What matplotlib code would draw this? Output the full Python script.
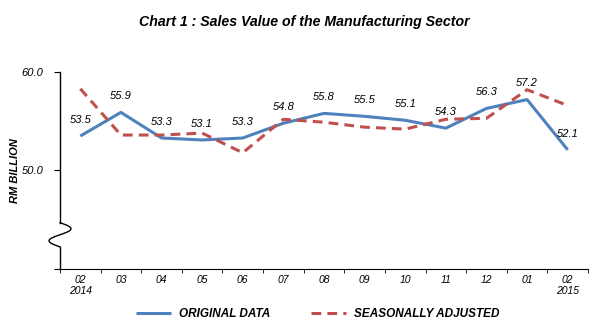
import numpy as np
import matplotlib
matplotlib.use("Agg")
import matplotlib.pyplot as plt
from matplotlib.transforms import blended_transform_factory

months = ["02\n2014", "03", "04", "05", "06", "07", "08", "09", "10", "11", "12", "01", "02\n2015"]
original = [53.5, 55.9, 53.3, 53.1, 53.3, 54.8, 55.8, 55.5, 55.1, 54.3, 56.3, 57.2, 52.1]
seasonal = [58.3, 53.6, 53.6, 53.8, 51.8, 55.2, 54.9, 54.4, 54.2, 55.2, 55.3, 58.2, 56.6]

BLUE = "#4F81BD"
RED = "#C0504D"

plt.rcParams.update({
    "font.family": ["Liberation Sans", "DejaVu Sans"],
    "font.style": "italic",
    "font.size": 8,
})

fig = plt.figure(figsize=(6.03, 3.32), dpi=100)
ax = fig.add_axes([60 / 603, 63 / 332, 528 / 603, 197 / 332])

x = np.arange(len(months))
ax.plot(x, original, color=BLUE, lw=2.2, solid_capstyle="butt", label="ORIGINAL DATA")
ax.plot(x, seasonal, color=RED, lw=2.2, dashes=(3.2, 2.0), label="SEASONALLY ADJUSTED")

for xi, v in zip(x, original):
    ax.annotate(f"{v:.1f}", (xi, v), xytext=(0, 8), textcoords="offset points",
                ha="center", va="bottom", fontsize=8)

ax.set_xlim(-0.5, len(months) - 0.5)
ax.set_ylim(40, 60)
ax.set_xticks(x)
ax.set_xticklabels(months)
ax.set_xticks(np.arange(-0.5, len(months), 1), minor=True)
ax.tick_params(axis="x", which="major", length=0, pad=4, labelsize=7.5)
ax.tick_params(axis="x", which="minor", length=3, direction="out")
ax.set_yticks([40, 50, 60])
ax.set_yticklabels(["", "50.0", "60.0"])
ax.tick_params(axis="y", length=4, direction="out", pad=8, labelsize=8)
for lab in ax.get_xticklabels() + ax.get_yticklabels():
    lab.set_fontstyle("italic")

ax.spines["top"].set_visible(False)
ax.spines["right"].set_visible(False)
ax.spines["left"].set_visible(False)

# left axis with break squiggle
tr = blended_transform_factory(ax.transAxes, ax.transData)
top_b, bot_b = 44.7, 42.25
ax.plot([0, 0], [60, top_b], color="black", lw=1, transform=tr, clip_on=False)
ax.plot([0, 0], [bot_b, 40], color="black", lw=1, transform=tr, clip_on=False)
t = np.linspace(0, 1, 60)
ax.plot(11 / 528 * np.sin(2 * np.pi * t), top_b - (top_b - bot_b) * t,
        color="black", lw=1, transform=tr, clip_on=False)

ax.set_ylabel("RM BILLION", fontsize=8, fontweight="bold", fontstyle="italic")
ax.yaxis.set_label_coords(-40 / 528, 0.5)

fig.text(0.505, 0.935, "Chart 1 : Sales Value of the Manufacturing Sector",
         ha="center", va="center", fontsize=10.2, fontweight="bold", fontstyle="italic")

leg = fig.legend(loc="center", bbox_to_anchor=(0.527, 0.055), ncol=2, frameon=False,
                 handlelength=3.0, columnspacing=3.4, handletextpad=0.7,
                 prop={"weight": "bold", "style": "italic", "size": 8.5})

fig.savefig("out.png", dpi=100)
